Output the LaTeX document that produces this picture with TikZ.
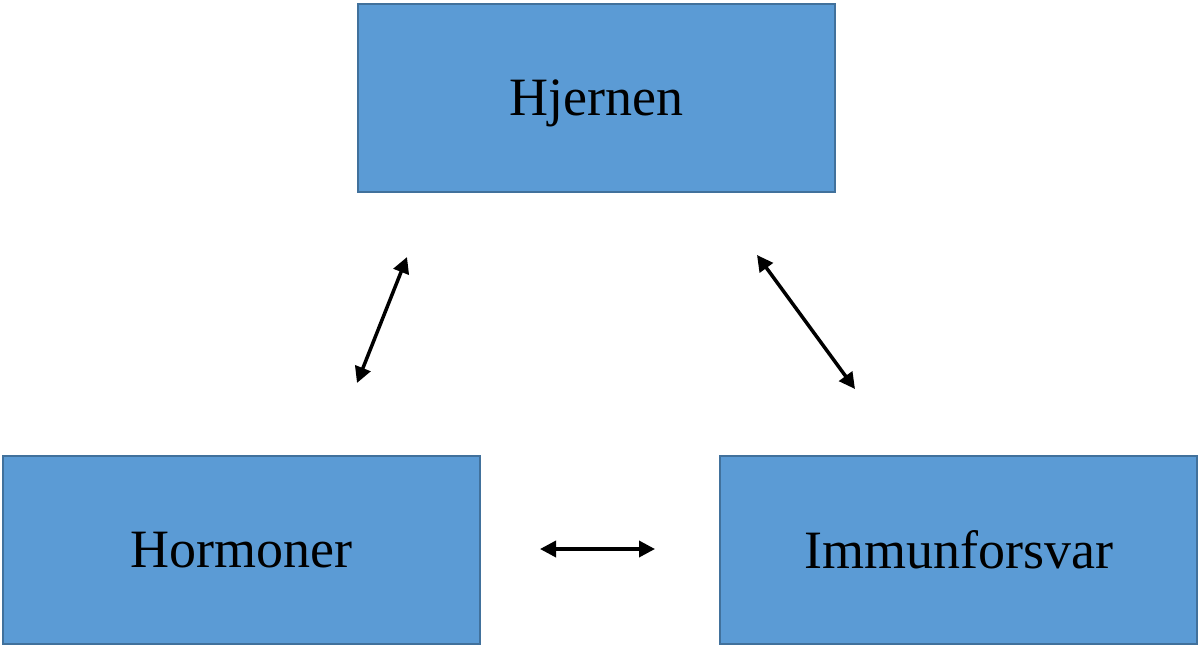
\documentclass[tikz,border=0pt]{standalone}
\usepackage{fontspec}
\setmainfont{Liberation Serif}
\usepackage{tikz}
\usetikzlibrary{arrows.meta}
\usetikzlibrary{positioning}

\definecolor{boxfill}{HTML}{5B9BD5}
\definecolor{boxline}{HTML}{41719C}

\begin{document}
\begin{tikzpicture} [
                x=1pt, y=-1pt,
                area/.style = {draw=boxline, fill=boxfill, line width=2pt, minimum width=477pt, minimum height=188pt, text depth=0pt, font=\fontsize{54}{60}\selectfont},
                link/.style = {{Triangle[length=16pt,width=16pt]}-{Triangle[length=16pt,width=16pt]}, line width=3.5pt}
            ]
            \useasboundingbox (0,0) rectangle (1199,646);
            \node[area] (brain) at (596.5, 98) {Hjernen};
            \node[area] (horm) at (241.5, 549.5) {Hormoner};
            \node[area] (immun) at (958.5, 549.5) {Immunforsvar};
            % free arrow ends
            \coordinate (h1) at (357, 383);
            \coordinate (h2) at (407, 257);
            \coordinate (i1) at (855, 389);
            \coordinate (i2) at (757, 255);
            \coordinate (m1) at (540, 549);
            \coordinate (m2) at (655, 549);
            \draw [link] (h1) -- (h2);
            \draw [link] (i1) -- (i2);
            \draw [link] (m1) -- (m2);
        \end{tikzpicture}
\end{document}
